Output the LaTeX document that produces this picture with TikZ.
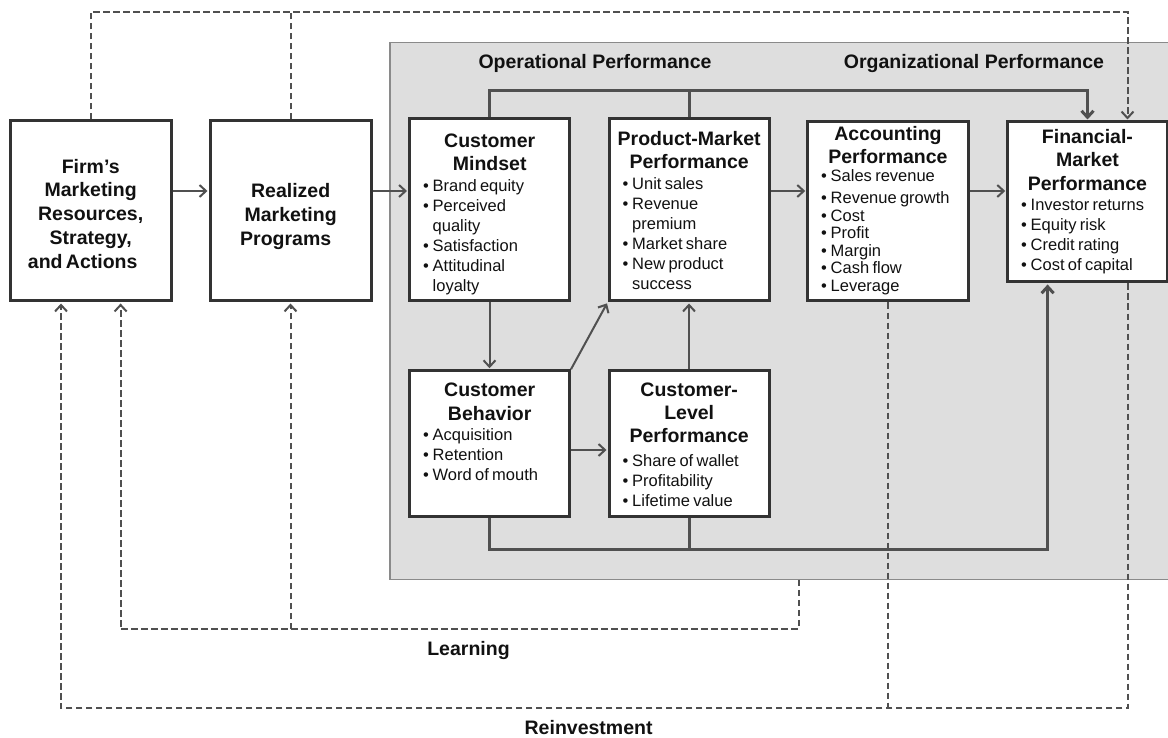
\documentclass[tikz,border=0pt]{standalone}
\usepackage{fontspec}
\setmainfont{Liberation Sans}
\usetikzlibrary{arrows.meta,calc}
\definecolor{panelfill}{HTML}{DEDEDE}
\definecolor{paneldraw}{HTML}{8A8A8A}
\definecolor{boxdraw}{HTML}{333333}
\definecolor{linecol}{HTML}{505050}
\definecolor{txtcol}{HTML}{111111}
\newcommand\ttl[2][23.3pt]{{\centering\fontsize{19.5pt}{#1}\bfseries\selectfont\rule{0pt}{15pt}#2\par}}
\newcommand\lst[2][20pt]{{\raggedright\fontsize{16.5pt}{#1}\selectfont\leftskip=13.5pt\relax #2\par}}
\newcommand\bx{\makebox[9.5pt][l]{\textbullet}}
\newcommand\ind{\hspace*{9.5pt}}
\tikzset{
  panel/.style={draw=paneldraw, fill=panelfill, line width=1.3pt, inner sep=0pt},
  blk/.style={draw=boxdraw, fill=white, line width=3pt, inner sep=0pt},
  txt/.style={inner sep=0pt, anchor=north west, text=txtcol},
  hdr/.style={inner sep=0pt, anchor=base, text=txtcol, font=\fontsize{19.5pt}{23pt}\bfseries\selectfont},
  conn/.style={draw=linecol, line width=2pt},
  mainbar/.style={draw=linecol, line width=3pt},
  fb/.style={draw=linecol, line width=2pt, dash pattern=on 6.5pt off 3.5pt},
  arr/.style={-{Straight Barb[length=6.5pt,width=12pt]}, shorten >=1pt}
}
\begin{document}
\begin{tikzpicture}[x=1pt,y=-1pt]
\useasboundingbox (0,0) rectangle (1168,738);
% panel
\node[panel, minimum width=782pt, minimum height=537pt] (panel) at (781,310.8) {};
\node[hdr] (ophdr) at (595,68.3) {Operational Performance};
\node[hdr] (orghdr) at (974,68.3) {Organizational Performance};
% boxes
\node[blk, minimum width=161pt, minimum height=180pt] (firm) at (90.5,211) {};
\node[blk, minimum width=161pt, minimum height=180pt] (real) at (290.5,211) {};
\node[blk, minimum width=160pt, minimum height=182pt] (cm) at (489.5,210) {};
\node[blk, minimum width=160pt, minimum height=182pt] (pm) at (689,210) {};
\node[blk, minimum width=160.5pt, minimum height=179pt] (acc) at (888,211.5) {};
\node[blk, minimum width=159.5pt, minimum height=160pt] (fin) at (1087.5,202) {};
\node[blk, minimum width=160pt, minimum height=145.5pt] (cb) at (489.5,443.5) {};
\node[blk, minimum width=160pt, minimum height=145.5pt] (clp) at (689,443.5) {};
% texts
\node[txt, text width=161pt] (firmt) at (10,158) {\ttl[23.8pt]{Firm's\\Marketing\\Resources,\\Strategy,\\and Actions\hspace*{16pt}}};
\node[txt, text width=161pt] (realt) at (210,182) {\ttl[24pt]{Realized\\Marketing\\Programs\hspace*{10pt}}};
\node[txt, text width=160pt] (cmt) at (409.5,132) {\ttl{Customer\\Mindset}\vspace{1pt}\lst{\bx Brand equity\\\bx Perceived\\\ind quality\\\bx Satisfaction\\\bx Attitudinal\\\ind loyalty}};
\node[txt, text width=160pt] (pmt) at (609,130) {\ttl{Product-Market\\Performance}\vspace{1.5pt}\lst{\bx Unit sales\\\bx Revenue\\\ind premium\\\bx Market share\\\bx New product\\\ind success}};
\node[txt, text width=160.5pt] (acct) at (807.5,125) {\ttl{Accounting\\Performance}\vspace{0.7pt}\lst[17.5pt]{\bx Sales revenue\\[4.5pt]\bx Revenue growth\\\bx Cost\\\bx Profit\\\bx Margin\\\bx Cash flow\\\bx Leverage}};
\node[txt, text width=159.5pt] (fint) at (1007.5,128.3) {\ttl{Financial-\\Market\\Performance}\lst{\bx Investor returns\\\bx Equity risk\\\bx Credit rating\\\bx Cost of capital}};
\node[txt, text width=160pt] (cbt) at (409.5,381.7) {\ttl{Customer\\Behavior}\lst{\bx Acquisition\\\bx Retention\\\bx Word of mouth}};
\node[txt, text width=160pt] (clpt) at (609,381) {\ttl{Customer-\\Level\\Performance}\vspace{4pt}\lst{\bx Share of wallet\\\bx Profitability\\\bx Lifetime value}};
% helper coordinates
\coordinate (ay) at (0,191);
\coordinate (by) at (0,450);
\coordinate (tb) at (1087.5,91);
\coordinate (bb) at (1047.6,549);
\coordinate (td) at (1127.5,12);
\coordinate (lc) at (120.6,629.3);
\coordinate (lx) at (798.6,0);
\coordinate (rc) at (61,708.3);
% solid connectors
\draw[conn,arr] (firm.east |- ay) -- (real.west |- ay);
\draw[conn,arr] (real.east |- ay) -- (cm.west |- ay);
\draw[conn,arr] (pm.east |- ay) -- (acc.west |- ay);
\draw[conn,arr] (acc.east |- ay) -- (fin.west |- ay);
\draw[conn,arr] (cm.south) -- (cb.north);
\draw[conn,arr] (cb.north east) -- (pm.south west);
\draw[conn,arr] (cb.east |- by) -- (clp.west |- by);
\draw[conn,arr] (clp.north) -- (pm.south);
\draw[mainbar,arr] (cm.north) |- (tb) -- (fin.north -| tb);
\draw[mainbar] (pm.north) -- (pm.north |- tb);
\draw[mainbar,arr] (cb.south) |- (bb) -- (fin.south -| bb);
\draw[mainbar] (clp.south) -- (clp.south |- bb);
% dashed feedback
\draw[fb,arr] (firm.north) |- (td) -- (fin.north -| td);
\draw[fb] (real.north) -- (real.north |- td);
\draw[fb,arr] (panel.south -| lx) |- (lc) -- (firm.south -| lc);
\draw[fb,arr] (real.south |- lc) -- (real.south);
\draw[fb,arr] (fin.south -| td) |- (rc) -- (firm.south -| rc);
\draw[fb] (acc.south) -- (acc.south |- rc);
% labels
\node[hdr] (learn) at (468.5,655) {Learning};
\node[hdr] (reinv) at (588.6,734) {Reinvestment};
\end{tikzpicture}
\end{document}
